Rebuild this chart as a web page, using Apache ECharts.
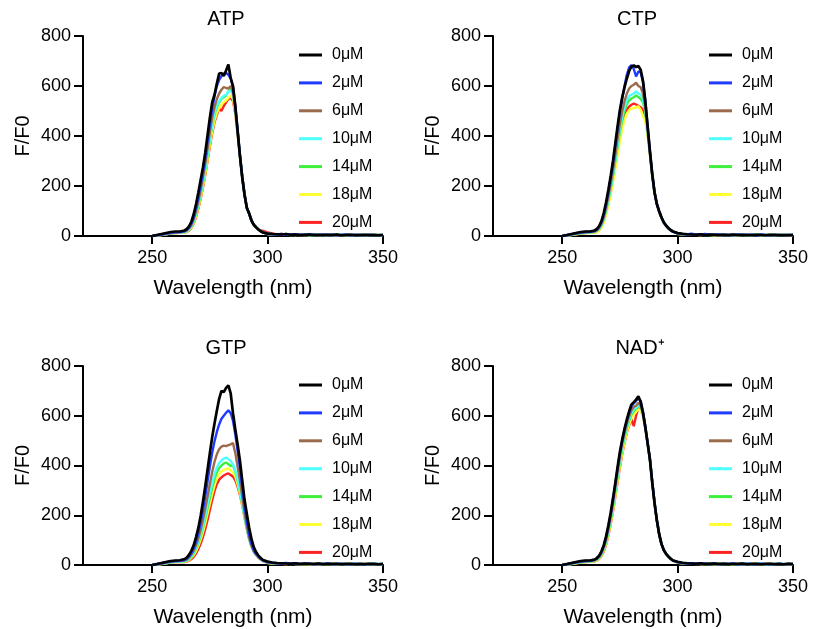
<!DOCTYPE html>
<html>
<head>
<meta charset="utf-8">
<script src="https://cdn.jsdelivr.net/npm/echarts@6/dist/echarts.min.js"></script>
<style>html,body{margin:0;padding:0;background:#fff;}#chart{width:813px;height:629px;}</style>
</head>
<body>
<div id="chart"></div>
<script>
// ---------- DATA ----------
const panelTitles = ['ATP', 'CTP', 'GTP', 'NAD\u207A'];
const concentrations = ['0\u03BCM', '2\u03BCM', '6\u03BCM', '10\u03BCM', '14\u03BCM', '18\u03BCM', '20\u03BCM'];
const xTicks = [250, 300, 350];
const yTicks = [0, 200, 400, 600, 800];

const wavelengths = [250,252,254,256,258,260,262,
  264,265,266,267,268,269,270,271,272,273,274,275,276,277,278,279,280,281,282,283,284,285,286,287,288,289,290,291,292,293,294,295,296,297,298,
  300,302,304,306,308,310,312,314,316,318,320,322,324,326,328,330,332,334,336,338,340,342,344,346,348,350];

// ATP
const atp0 = [0,4,8,12,16,18,18, 22,28,40,58,88,128,175,225,275,335,405,475,535,565,610,650,652,640,662,686,632,600,520,420,322,235,165,112,90,62,45,35,26,19,14, 10,8,7,6,8,5,6,4,5,6,4,5,3,5,4,6,3,4,5,3,4,5,3,4,3,4];
const atp2 = [0,3,6,10,13,15,16, 19,24,34,50,76,112,155,203,255,312,380,450,510,560,600,625,640,650,652,645,630,595,520,425,325,238,165,113,90,62,45,35,26,19,14, 9,7,6,8,5,6,7,4,5,6,5,3,6,4,5,3,4,6,3,5,4,3,5,4,3,4];
const atp6 = [0,3,5,9,12,14,15, 18,22,31,45,68,100,140,185,235,290,352,418,475,515,548,570,585,596,592,590,600,575,510,420,322,236,165,113,90,62,45,35,26,19,14, 8,9,5,7,6,4,7,5,3,6,5,4,6,3,4,5,4,3,5,4,3,4,5,3,4,3];
const atp10 = [0,2,5,8,11,13,14, 16,20,28,41,62,92,130,173,220,272,332,395,450,490,520,540,552,560,565,578,582,565,505,418,322,236,166,113,90,62,45,35,26,19,14, 9,6,8,5,7,5,4,6,5,3,5,6,4,3,5,4,6,3,4,3,5,4,3,5,3,4];
const atp14 = [0,2,5,8,11,13,14, 16,19,27,39,59,88,125,167,213,265,325,388,443,485,515,535,548,555,562,578,590,570,508,418,322,236,166,113,90,62,45,35,26,19,14, 10,7,6,5,8,4,6,5,4,7,3,5,4,5,3,6,4,3,5,4,4,3,5,3,4,3];
const atp18 = [0,2,4,7,10,12,13, 14,17,24,35,53,80,115,155,200,250,308,368,420,462,492,512,525,535,542,552,562,548,495,412,320,235,166,113,90,62,45,35,26,19,14, 8,6,7,5,6,5,5,4,6,4,5,3,4,5,4,3,5,4,3,4,5,3,4,3,4,3];
const atp20 = [0,2,4,7,10,12,13, 14,16,22,33,50,76,110,150,195,245,302,360,412,455,485,510,500,520,535,548,552,540,490,410,320,235,166,113,90,62,45,35,26,22,20, 14,10,6,8,5,7,4,6,5,4,6,3,5,4,6,3,4,5,3,4,6,3,4,5,3,4];

// CTP
const ctp0 = [0,4,8,12,16,18,18, 22,28,40,60,92,135,185,240,300,370,440,505,555,595,630,660,678,682,676,680,665,620,540,440,340,248,175,128,100,75,55,42,32,24,18, 12,9,7,6,5,7,4,6,5,4,5,3,6,4,5,3,4,5,4,3,5,4,3,4,3,4];
const ctp2 = [0,3,7,11,14,16,17, 20,25,36,54,84,125,175,230,290,360,430,495,550,600,645,675,684,668,638,658,655,615,540,440,340,248,175,128,98,74,54,41,31,23,17, 11,8,6,9,5,6,8,4,5,6,4,5,3,6,4,4,5,3,6,4,3,5,4,3,5,4];
const ctp6 = [0,3,6,10,13,15,16, 18,22,32,48,75,112,158,208,262,325,390,450,500,540,570,590,600,605,613,600,595,570,515,428,335,246,174,127,97,73,54,41,31,23,17, 10,8,7,5,6,5,7,4,6,3,5,4,5,3,4,6,4,3,5,4,3,4,5,3,4,3];
const ctp10 = [0,2,5,9,12,14,15, 17,21,30,45,70,105,148,196,248,308,370,430,480,518,545,560,565,570,578,570,565,548,502,422,332,245,174,127,97,73,54,41,31,23,17, 10,7,8,6,5,6,4,5,7,4,5,3,5,4,6,3,5,4,3,5,4,3,4,5,3,4];
const ctp14 = [0,2,5,8,11,13,14, 16,20,28,42,66,100,142,188,240,298,358,416,465,503,528,542,550,555,562,556,548,535,495,420,332,245,174,127,97,73,54,41,31,23,17, 9,8,6,7,5,5,6,4,5,3,6,4,5,3,4,5,3,6,4,3,4,5,3,4,3,6];
const ctp18 = [0,2,4,7,10,12,13, 14,16,23,35,55,86,125,168,216,270,326,380,428,465,490,503,510,512,515,518,505,480,460,405,326,243,174,127,97,73,54,41,31,23,17, 8,7,5,6,5,4,6,5,3,5,4,5,3,4,5,3,4,6,3,4,3,5,4,3,4,3];
const ctp20 = [0,2,4,7,10,12,13, 14,17,24,37,58,90,130,175,225,282,340,395,442,480,505,518,525,530,526,520,515,505,475,410,328,244,174,127,97,73,54,41,31,23,17, 10,8,6,5,7,4,5,6,3,5,4,5,4,3,6,4,3,5,4,3,5,3,4,4,3,4];

// GTP
const gtp0 = [0,4,8,12,16,18,19, 24,30,42,58,80,112,150,198,255,318,385,452,515,570,620,668,700,695,712,722,690,610,545,485,420,340,262,205,150,105,72,52,38,28,20, 14,10,8,7,6,5,7,4,6,5,4,6,3,5,4,5,3,4,5,3,4,3,5,4,3,4];
const gtp2 = [0,3,7,11,14,16,17, 20,25,35,49,68,95,130,172,222,278,338,398,452,498,535,565,588,600,612,622,610,580,525,460,390,312,238,175,122,85,60,45,34,25,19, 12,9,7,6,8,5,6,4,5,6,3,5,4,6,3,4,5,4,3,5,4,3,4,5,3,4];
const gtp6 = [0,3,6,10,13,15,16, 18,22,30,42,58,80,108,142,182,228,278,328,375,415,445,465,476,480,478,482,485,490,450,395,340,275,210,155,110,78,56,42,32,24,18, 11,8,7,5,6,7,4,5,6,3,5,4,5,3,6,4,3,5,4,3,4,5,3,4,3,4];
const gtp10 = [0,2,5,8,11,13,14, 16,19,26,36,50,70,95,125,160,200,245,290,330,365,392,410,420,428,432,425,418,405,380,345,300,250,195,148,106,76,55,41,31,23,17, 10,8,6,7,5,6,4,5,6,4,3,5,4,6,3,5,4,3,4,5,3,4,3,5,4,3];
const gtp14 = [0,2,5,8,11,13,14, 15,18,24,33,46,65,88,116,150,188,230,272,312,345,372,390,400,408,412,405,398,400,375,340,298,248,195,148,106,76,55,41,31,23,17, 9,7,8,5,6,4,6,5,3,5,4,6,3,4,5,3,4,5,3,4,4,3,5,3,4,3];
const gtp18 = [0,2,4,7,10,12,13, 13,16,21,29,40,56,77,102,133,168,208,248,286,320,348,366,376,382,385,388,380,370,355,325,288,242,192,146,105,75,54,40,30,22,16, 8,6,7,5,4,6,5,3,5,4,5,3,4,5,3,4,3,5,4,3,4,3,4,5,3,4];
const gtp20 = [0,2,4,7,10,12,13, 12,14,18,24,33,46,64,86,113,145,182,222,262,298,325,343,352,360,365,368,362,355,340,315,282,240,192,146,105,75,54,40,30,22,16, 9,7,5,6,4,5,6,3,5,4,3,5,4,5,3,4,5,3,4,3,5,4,3,4,3,4];

// NAD+
const nad0 = [0,4,8,12,16,18,18, 22,28,38,55,80,115,160,210,268,330,395,455,505,548,585,618,645,655,665,678,655,612,555,490,425,330,250,180,125,85,60,45,34,25,18, 13,9,7,6,5,7,4,5,6,4,5,3,5,4,6,3,4,5,3,4,5,3,4,3,5,4];
const nad2 = [0,3,7,11,14,16,17, 21,26,36,52,76,110,154,204,262,324,388,448,500,542,580,612,638,650,660,670,660,615,558,492,426,336,250,180,124,85,60,45,34,25,18, 12,8,6,7,5,6,5,4,6,3,5,4,6,3,4,5,4,3,5,4,3,4,5,3,4,4];
const nad6 = [0,3,6,10,13,15,16, 19,24,33,48,70,102,145,194,250,312,375,435,488,530,568,598,622,635,640,652,640,608,555,490,425,336,250,180,124,85,60,45,34,25,18, 11,8,7,5,6,4,6,5,3,5,4,5,3,6,4,3,5,4,3,4,5,3,4,3,4,3];
const nad10 = [0,2,5,9,12,14,15, 18,22,31,45,66,97,138,186,241,302,365,425,478,520,558,588,612,625,632,642,635,605,552,488,424,335,250,180,124,85,60,45,34,25,18, 10,8,6,7,4,6,5,4,5,3,6,4,5,3,4,5,3,4,6,3,4,3,5,4,3,4];
const nad14 = [0,2,5,8,11,13,14, 17,21,29,42,62,92,132,179,233,293,355,415,468,512,550,580,605,618,628,638,640,608,555,490,425,336,250,180,124,85,60,45,34,25,18, 10,7,8,5,6,5,4,6,3,5,4,5,3,4,6,3,5,4,3,4,3,5,4,3,4,3];
const nad18 = [0,2,4,7,10,12,13, 15,19,26,38,57,85,123,168,220,278,338,398,450,495,535,565,590,605,615,626,622,598,550,488,424,335,250,180,124,85,60,45,34,25,18, 9,7,6,5,6,4,5,4,6,3,5,4,3,5,4,3,4,5,3,4,3,4,5,3,4,3];
const nad20 = [0,2,4,7,10,12,13, 14,18,25,36,54,82,120,165,216,274,334,394,446,492,532,562,585,558,600,630,625,600,550,488,424,335,250,180,124,85,60,45,34,25,18, 11,8,6,7,5,4,6,5,3,5,4,6,3,4,5,3,4,5,3,4,4,3,5,3,4,3];

const panelData = [
  [atp0, atp2, atp6, atp10, atp14, atp18, atp20],
  [ctp0, ctp2, ctp6, ctp10, ctp14, ctp18, ctp20],
  [gtp0, gtp2, gtp6, gtp10, gtp14, gtp18, gtp20],
  [nad0, nad2, nad6, nad10, nad14, nad18, nad20]
];

// ---------- STYLE / LAYOUT ----------
const colors = ['#000000', '#1f3bff', '#9c6b4b', '#4dffff', '#3cf03c', '#ffff33', '#ff2222'];
const FONT = 'Liberation Sans, Arial, sans-serif';
const panelPos = [
  {left: 83, top: 36}, {left: 493, top: 36},
  {left: 83, top: 366}, {left: 493, top: 366}
];
const titlePos = [[226, 19], [637, 19], [226, 348], [640, 348]];

const grids = [], xAxes = [], yAxes = [], series = [], legends = [], graphics = [];
panelPos.forEach((p, i) => {
  grids.push({left: p.left, top: p.top, width: 300, height: 200, containLabel: false});
  xAxes.push({
    type: 'value', gridIndex: i, min: 220, max: 350,
    name: 'Wavelength (nm)', nameLocation: 'middle', nameGap: 42,
    nameTextStyle: {fontSize: 21, fontFamily: FONT, color: '#000'},
    axisLine: {show: true, onZero: false, lineStyle: {color: '#000', width: 2}},
    axisTick: {show: true, length: 8, lineStyle: {color: '#000', width: 2}, customValues: xTicks},
    axisLabel: {fontSize: 18, fontFamily: FONT, color: '#000', margin: 13, customValues: xTicks},
    splitLine: {show: false}
  });
  yAxes.push({
    type: 'value', gridIndex: i, min: 0, max: 800, interval: 200,
    name: 'F/F0', nameLocation: 'middle', nameGap: 50,
    nameTextStyle: {fontSize: 20, fontFamily: FONT, color: '#000'},
    axisLine: {show: true, lineStyle: {color: '#000', width: 2}},
    axisTick: {show: true, length: 9, lineStyle: {color: '#000', width: 2}},
    axisLabel: {fontSize: 18, fontFamily: FONT, color: '#000', margin: 12},
    splitLine: {show: false}
  });
  for (let c = concentrations.length - 1; c >= 0; c--) {
    const arr = panelData[i][c];
    series.push({
      type: 'line', name: concentrations[c], xAxisIndex: i, yAxisIndex: i,
      data: wavelengths.map((w, k) => [w, arr[k]]),
      showSymbol: false, symbol: 'none',
      lineStyle: {color: colors[c], width: c === 0 ? 2.7 : 2.4},
      itemStyle: {color: colors[c]},
      z: 10 - c, animation: false
    });
  }
  legends.push({
    orient: 'vertical', left: p.left + 216, top: p.top + 11,
    data: concentrations, icon: 'rect', itemWidth: 23, itemHeight: 3,
    itemGap: 11.9, selectedMode: false, padding: 0,
    textStyle: {fontSize: 16, fontFamily: FONT, color: '#000', lineHeight: 16, padding: [0, 0, 0, 5]}
  });
  graphics.push({
    type: 'text', x: titlePos[i][0], y: titlePos[i][1],
    style: {text: panelTitles[i], fontSize: 20, fontFamily: FONT, fill: '#000',
      align: 'center', verticalAlign: 'middle', textAlign: 'center', textVerticalAlign: 'middle'}
  });
});

const chart = echarts.init(document.getElementById('chart'), null, {renderer: 'canvas'});
chart.setOption({
  backgroundColor: '#ffffff',
  animation: false,
  color: colors,
  grid: grids, xAxis: xAxes, yAxis: yAxes, series: series,
  legend: legends, graphic: graphics
});
</script>
</body>
</html>
